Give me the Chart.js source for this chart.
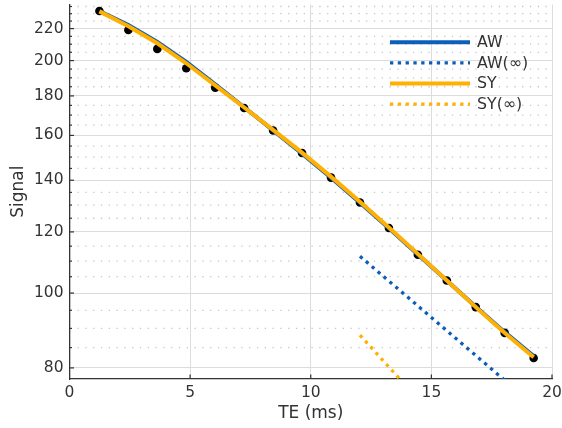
<!DOCTYPE html>
<html><head><meta charset="utf-8">
<style>html,body{margin:0;padding:0;background:#fff;}#wrap{width:562px;height:428px;}</style>
<script src="https://cdn.jsdelivr.net/npm/chart.js@4"></script>
</head><body><div id="wrap"><canvas id="c" width="562" height="428"></canvas></div>
<script>
// ---- data ----
const TE = [1.24, 2.44, 3.64, 4.84, 6.04, 7.24, 8.44, 9.64, 10.84, 12.04, 13.24, 14.44, 15.64, 16.84, 18.04, 19.24];
const signal = [231.9, 219.1, 207.1, 195.5, 184.5, 173.6, 162.4, 151.8, 141.1, 131.0, 121.4, 112.1, 103.8, 95.9, 88.8, 82.4];
const fitAW = [231.8, 222.4, 211.4, 199.2, 186.3, 174.0, 162.4, 151.5, 141.0, 130.9, 121.3, 112.2, 103.8, 96.0, 89.0, 82.9];
const fitSY = [231.6, 221.6, 210.6, 198.4, 185.8, 173.9, 162.7, 152.0, 141.5, 131.3, 121.6, 112.4, 103.8, 95.9, 88.8, 82.6];
const infTE = [12.04, 19.24];
const infAW = [111.6, 71.6];
const infSY = [88.2, 49.9];
const seriesLabels = ['AW', 'AW(∞)', 'SY', 'SY(∞)'];
const xTicks = [0, 5, 10, 15, 20];
const yTicks = [80, 85, 90, 95, 100, 105, 110, 115, 120, 125, 130, 135, 140, 145, 150, 155, 160, 165, 170, 175, 180, 185, 190, 195, 200, 205, 210, 215, 220, 225, 230, 235];
const yLabels = [80, 100, 120, 140, 160, 180, 200, 220];
const xTitle = 'TE (ms)';
const yTitle = 'Signal';

const BLUE = '#0d5eb8';
const ORANGE = '#ffb000';
const TXT = '#333333';
const FONT = 'DejaVu Sans';

const pts = (xs, ys) => xs.map((t, i) => ({x: t, y: ys[i]}));

const decor = {
  id: 'decor',
  beforeDatasetsDraw(chart) {
    const {ctx, chartArea: a, scales: {x, y}} = chart;
    ctx.save();
    // minor dotted grid
    ctx.strokeStyle = '#c6c6c6';
    ctx.lineWidth = 1.3;
    ctx.setLineDash([1.3, 6.5]);
    yTicks.forEach(v => {
      if (yLabels.includes(v)) return;
      const py = y.getPixelForValue(v);
      ctx.beginPath(); ctx.moveTo(a.left + 8, py); ctx.lineTo(a.right, py); ctx.stroke();
    });
    ctx.setLineDash([]);
    // inward ticks
    ctx.strokeStyle = '#333';
    ctx.lineWidth = 1.2;
    yTicks.forEach(v => {
      const py = y.getPixelForValue(v);
      const len = yLabels.includes(v) ? 4.5 : 2.5;
      ctx.beginPath(); ctx.moveTo(a.left, py); ctx.lineTo(a.left + len, py); ctx.stroke();
    });
    xTicks.forEach(v => {
      if (v === 0) return;
      const px = x.getPixelForValue(v);
      ctx.beginPath(); ctx.moveTo(px, a.bottom); ctx.lineTo(px, a.bottom - 4.5); ctx.stroke();
    });
    ctx.restore();
  },
  afterDraw(chart) {
    const {ctx} = chart;
    ctx.save();
    const rows = [42.3, 62.9, 83.5, 104.2];
    chart.data.datasets.forEach((ds) => {
      if (ds.legendRow === undefined) return;
      const ry = rows[ds.legendRow];
      ctx.strokeStyle = ds.borderColor;
      ctx.lineWidth = ds.borderWidth;
      ctx.lineCap = 'butt';
      ctx.setLineDash(ds.borderDash || []);
      ctx.beginPath(); ctx.moveTo(390, ry); ctx.lineTo(470, ry); ctx.stroke();
      ctx.setLineDash([]);
      ctx.fillStyle = TXT;
      ctx.font = '15.8px "' + FONT + '"';
      ctx.textBaseline = 'middle';
      ctx.textAlign = 'left';
      ctx.fillText(ds.label, 477, ry + 0.5);
    });
    ctx.restore();
  }
};

new Chart(document.getElementById('c'), {
  type: 'line',
  data: {
    datasets: [
      {label: seriesLabels[0], legendRow: 0, data: pts(TE, fitAW), borderColor: BLUE, borderWidth: 4, pointRadius: 0, tension: 0, fill: false, order: 4},
      {label: seriesLabels[1], legendRow: 1, data: pts(infTE, infAW), borderColor: BLUE, borderWidth: 3.3, borderDash: [3.3, 4.5], borderCapStyle: 'butt', pointRadius: 0, tension: 0, fill: false, order: 3, clip: 0},
      {label: seriesLabels[2], legendRow: 2, data: pts(TE, fitSY), borderColor: ORANGE, borderWidth: 4, pointRadius: 0, tension: 0, fill: false, order: 2},
      {label: seriesLabels[3], legendRow: 3, data: pts(infTE, infSY), borderColor: ORANGE, borderWidth: 3.3, borderDash: [3.3, 4.5], borderCapStyle: 'butt', pointRadius: 0, tension: 0, fill: false, order: 1, clip: 0},
      {label: 'data', data: pts(TE, signal), showLine: false, pointRadius: 4.3, pointBackgroundColor: '#000', pointBorderWidth: 0, borderColor: '#000', order: 10}
    ]
  },
  options: {
    responsive: false,
    devicePixelRatio: 1,
    animation: false,
    events: [],
    layout: {padding: {top: 4.5, right: 10, bottom: 0, left: 0}},
    plugins: {legend: {display: false}, tooltip: {enabled: false}},
    scales: {
      x: {
        type: 'linear', min: 0, max: 20,
        afterBuildTicks: s => { s.ticks = xTicks.map(v => ({value: v})); },
        afterFit: s => { s.height = 49; s.paddingLeft = 0; s.paddingRight = 0; },
        ticks: {color: TXT, font: {family: FONT, size: 15.5}, padding: 5, maxRotation: 0, autoSkip: false},
        grid: {color: '#dcdcdc', lineWidth: 1, drawTicks: false},
        border: {color: '#333', width: 1.3},
        title: {display: true, text: xTitle, color: TXT, font: {family: FONT, size: 17}, padding: {top: 0, bottom: 4.5}}
      },
      y: {
        type: 'logarithmic', min: 77.4, max: 236.4,
        afterBuildTicks: s => { s.ticks = yTicks.map(v => ({value: v})); },
        afterFit: s => { s.width = 69.5; s.paddingTop = 0; s.paddingBottom = 0; },
        ticks: {color: TXT, font: {family: FONT, size: 15.5}, padding: 6, autoSkip: false,
          callback: v => yLabels.includes(v) ? String(v) : ''},
        grid: {color: c => (c.tick && yLabels.includes(c.tick.value)) ? '#dcdcdc' : 'rgba(0,0,0,0)', lineWidth: 1, drawTicks: false},
        border: {color: '#333', width: 1.3},
        title: {display: true, text: yTitle, color: TXT, font: {family: FONT, size: 17}, padding: {top: 8, bottom: 0}}
      }
    }
  },
  plugins: [decor]
});
</script></body></html>
